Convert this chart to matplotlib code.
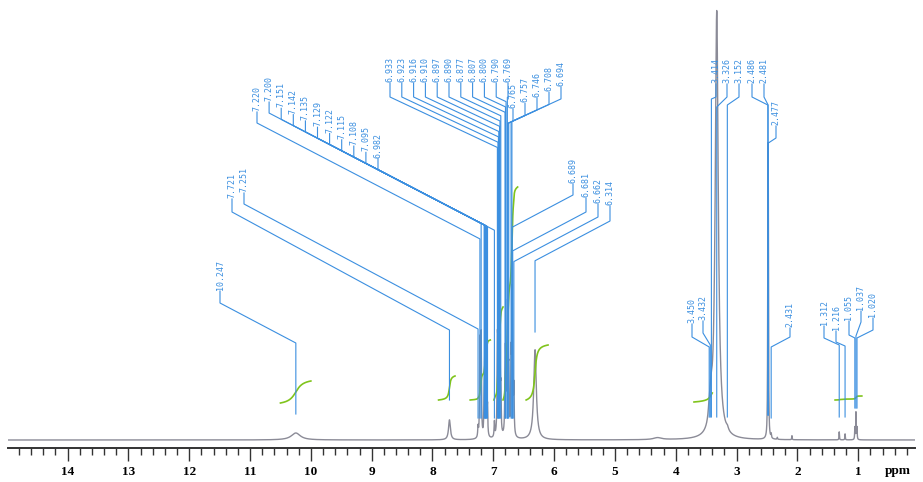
import numpy as np
import matplotlib.pyplot as plt

# 1H NMR lines: shift (ppm), height, half width (ppm)
shifts = [10.247, 7.721, 7.251, 7.220, 7.200, 7.151, 7.142, 7.135, 7.129, 7.122,
          7.115, 7.108, 7.095, 6.982, 6.933, 6.923, 6.916, 6.910, 6.897, 6.890,
          6.877, 6.807, 6.800, 6.790, 6.769, 6.765, 6.757, 6.746, 6.708, 6.694,
          6.689, 6.681, 6.662, 6.314, 4.300, 3.450, 3.432, 3.414, 3.326, 3.152,
          2.486, 2.481, 2.477, 2.431, 2.330, 2.090, 1.312, 1.216, 1.055, 1.037, 1.020]
heights = [7, 20, 10, 95, 100, 35, 45, 50, 55, 50,
           45, 35, 25, 15, 75, 60, 80, 70, 55, 50,
           40, 50, 55, 45, 60, 65, 55, 50, 70, 80,
           70, 60, 45, 90, 2, 10, 12, 15, 428, 3,
           120, 190, 120, 4, 2, 4, 8, 6, 12, 27, 12]
hwidths = [0.09, 0.018, 0.006, 0.006, 0.006, 0.005, 0.005, 0.005, 0.005, 0.005,
           0.005, 0.005, 0.005, 0.006, 0.006, 0.006, 0.006, 0.006, 0.006, 0.006,
           0.006, 0.006, 0.006, 0.006, 0.006, 0.006, 0.006, 0.006, 0.006, 0.006,
           0.006, 0.006, 0.006, 0.025, 0.08, 0.02, 0.02, 0.02, 0.03, 0.02,
           0.004, 0.004, 0.004, 0.005, 0.005, 0.004, 0.004, 0.004, 0.004, 0.004, 0.004]

# integral regions
int_hi = [10.50, 7.90, 7.38, 6.99, 6.84, 6.46, 3.70, 1.38]
int_lo = [10.00, 7.63, 7.05, 6.84, 6.60, 6.10, 3.40, 0.94]
int_base = [37, 40, 40, 40, 40, 40, 38, 40]
int_rise = [22, 24, 60, 93, 213, 55, 9, 4]

tick_vals = list(range(1, 15))

# picked peaks, in label order
picked = [10.247,
          7.721, 7.251,
          7.220, 7.200, 7.151, 7.142, 7.135, 7.129, 7.122, 7.115, 7.108, 7.095, 6.982,
          6.933, 6.923, 6.916, 6.910, 6.897, 6.890, 6.877, 6.807, 6.800, 6.790, 6.769,
          6.765, 6.757, 6.746, 6.708, 6.694,
          6.689, 6.681, 6.662, 6.314,
          3.450, 3.432,
          3.414, 3.326, 3.152, 2.486, 2.481, 2.477,
          2.431,
          1.312, 1.216, 1.055, 1.037, 1.020]

ppm = np.linspace(15.0, 0.0, 30001)
spec = np.zeros_like(ppm)
for s, h, w in zip(shifts, heights, hwidths):
    spec += h / (1 + ((ppm - s) / w) ** 2)

blue = '#3b8fe0'
green = '#80c41c'

fig = plt.figure(figsize=(9.23, 4.82), dpi=100)
ax = fig.add_axes([8 / 923, 34 / 482, 907 / 923, 448 / 482])
ax.plot(ppm, spec, color='#8b8b97', lw=1.0, zorder=2)

for hi, lo, base, rise in zip(int_hi, int_lo, int_base, int_rise):
    m = (ppm <= hi) & (ppm >= lo)
    cum = np.cumsum(spec[m])
    ax.plot(ppm[m], base + rise * cum / cum[-1], color=green, lw=1.2, zorder=3)

ax.set_xlim(14.98, 0.066)
ax.set_ylim(-8, 440)
ax.set_yticks([])
for side in ['left', 'right', 'top']:
    ax.spines[side].set_visible(False)
ax.spines['bottom'].set_linewidth(1.4)
ax.spines['bottom'].set_color('#333333')
ax.set_xticks(tick_vals)
ax.set_xticklabels([str(t) for t in tick_vals], family='Liberation Serif',
                   weight='bold', fontsize=9.5)
ax.set_xticks(np.arange(0.2, 14.9, 0.2), minor=True)
ax.tick_params(axis='x', which='major', direction='out', length=9, width=1,
               color='#333333', pad=4)
ax.tick_params(axis='x', which='minor', direction='out', length=5, width=1,
               color='#333333')
ax.patch.set_visible(False)
fig.text(898 / 923, 1 - 471 / 482, 'ppm', family='Liberation Serif', weight='bold',
         fontsize=9.5, ha='center', va='center')

# label layer in pixel units
lay = fig.add_axes([0, 0, 1, 1])
lay.set_xlim(0, 923)
lay.set_ylim(482, 0)
lay.axis('off')
lay.patch.set_visible(False)


def to_px(v):
    d = ax.transData.transform((v, 0))
    return lay.transData.inverted().transform(d)[0]


lx, bottom, stub, elbow, end = [], [], [], [], []


def add(xs, bs, ss, es, ns):
    lx.extend(xs); bottom.extend(bs); stub.extend(ss); elbow.extend(es); end.extend(ns)


def sloped(vals, xs, ss, slope):
    # diagonal drops by |slope| px per px of horizontal run
    return [s + slope * abs(to_px(v) - x) for v, x, s in zip(vals, xs, ss)]


add([220], [290], [303], [343], [414])
add([232, 244], [198, 192], [212, 204], [330, 329], [400, 418])

g = picked[3:14]
xs = [257 + 12.1 * i for i in range(len(g))]
ss = [123] + [113 + 0.52 * (x - 269) for x in xs[1:]]
add(xs, [s - 12 for s in ss], ss, sloped(g, xs, ss, 0.52), [418] * len(g))

g = picked[14:25]
xs = [390 + 11.8 * i for i in range(len(g))]
ss = [97] * len(g)
add(xs, [82] * len(g), ss, sloped(g, xs, ss, 0.47), [418] * len(g))

g = picked[25:30]
xs = [513 + 12 * i for i in range(len(g))]
ss = [121 - 0.46 * (x - 513) for x in xs]
add(xs, [s - 13 for s in ss], ss, sloped(g, xs, ss, 0.46), [418] * len(g))

g = picked[30:34]
xs = [573, 586, 598, 610]
ss = [195, 212, 217, 221]
add(xs, [183, 197, 203, 205], ss, sloped(g, xs, ss, 0.53), [418, 418, 418, 332])

add([692, 703], [323, 320], [337, 333], [347, 345], [417, 417])
add([716, 727, 739, 752, 764, 776], [83, 83, 83, 83, 83, 125],
    [97, 97, 97, 97, 97, 138], [99, 107, 105, 105, 105, 143],
    [417, 417, 417, 415, 415, 415])
add([790], [327], [337], [347], [418])
add([824, 836, 849, 861, 873], [325, 330, 320, 310, 317],
    [338, 342, 335, 322, 330], [345, 346, 338, 336, 338],
    [417, 417, 408, 408, 408])

for v, x, b, s, e, n in zip(picked, lx, bottom, stub, elbow, end):
    p = to_px(v)
    lay.text(x, b, f'{v:.3f}', rotation=90, ha='center', va='bottom',
             family='DejaVu Sans Mono', fontsize=6, color=blue)
    lay.plot([x, x, p, p], [b + 1, s, e, n], color=blue, lw=0.8)

fig.savefig('out.png', dpi=100)
